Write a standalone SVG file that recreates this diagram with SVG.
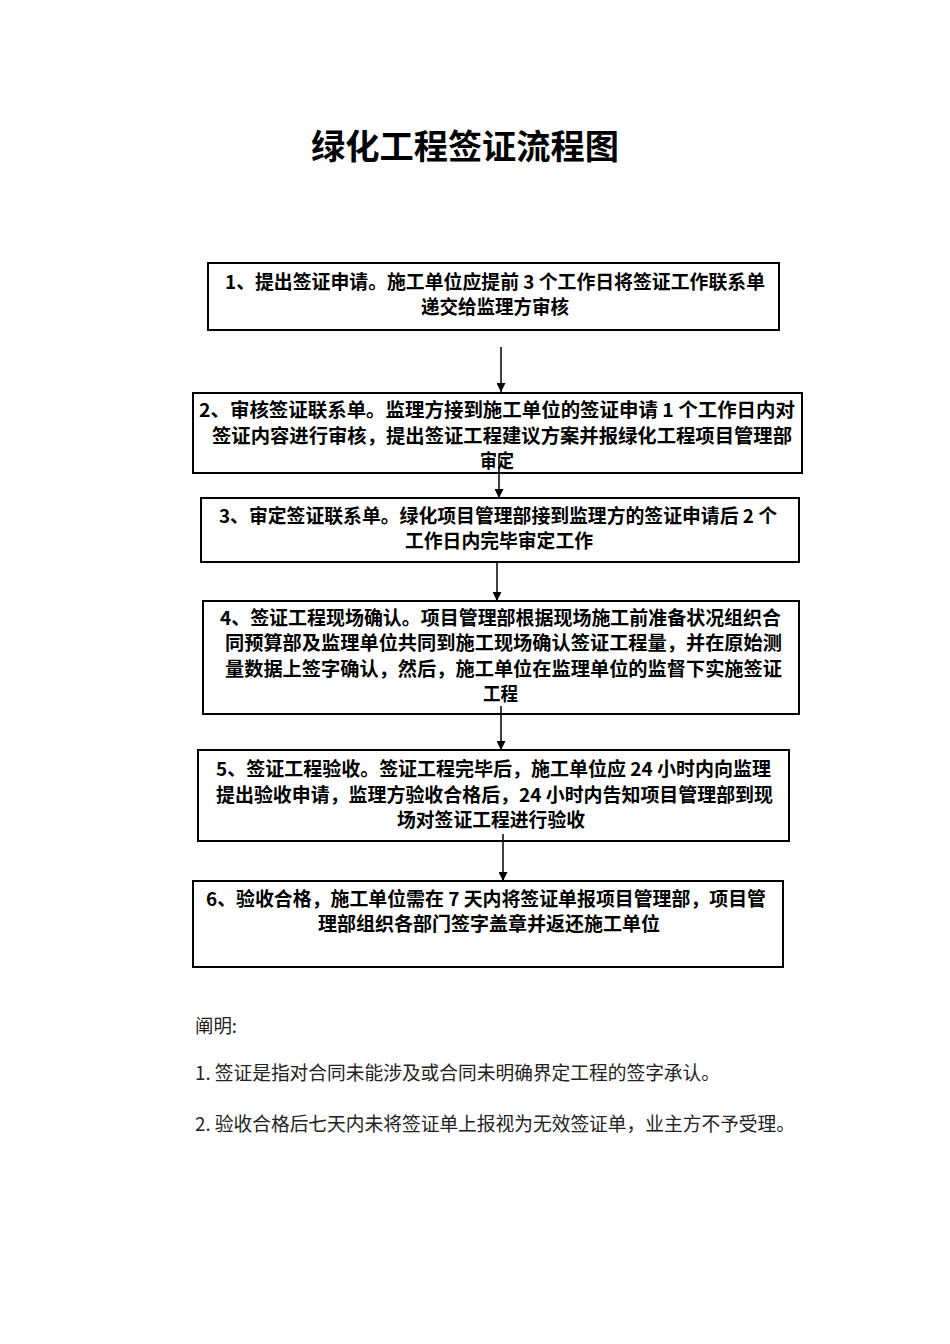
<svg xmlns="http://www.w3.org/2000/svg" width="950" height="1344" viewBox="0 0 950 1344">
<style>
.box{fill:#fff;stroke:#000;stroke-width:2}
.t{font-family:"Noto Sans CJK SC","Liberation Sans",sans-serif;font-size:19px;font-weight:bold;fill:#000}
.n{font-family:"Noto Sans CJK SC","Liberation Sans",sans-serif;font-size:19px;fill:#222}
.title{font-family:"Noto Sans CJK SC","Liberation Serif",serif;font-size:34px;font-weight:bold;fill:#000}
.c{stroke:#000;stroke-width:1.5;fill:none}
</style>
<defs>
<marker id="ah" viewBox="0 0 10 10" refX="10" refY="5" markerWidth="9" markerHeight="9" markerUnits="userSpaceOnUse" orient="auto">
<path d="M0,0 L10,5 L0,10 Z" fill="#000"/>
</marker>
</defs>
<rect width="950" height="1344" fill="#fff"/>
<text class="title" x="311" y="159" textLength="308" lengthAdjust="spacingAndGlyphs">绿化工程签证流程图</text>

<g id="node1">
<rect class="box" x="208" y="263" width="571" height="67"/>
<text class="t" x="225" y="289" textLength="540" lengthAdjust="spacingAndGlyphs">1、提出签证申请。施工单位应提前 3 个工作日将签证工作联系单</text>
<text class="t" x="421" y="314" textLength="148" lengthAdjust="spacingAndGlyphs">递交给监理方审核</text>
</g>
<g id="node2">
<rect class="box" x="193" y="393" width="609" height="80"/>
<text class="t" x="199" y="417" textLength="596" lengthAdjust="spacingAndGlyphs">2、审核签证联系单。监理方接到施工单位的签证申请 1 个工作日内对</text>
<text class="t" x="212" y="443" textLength="580" lengthAdjust="spacingAndGlyphs">签证内容进行审核，提出签证工程建议方案并报绿化工程项目管理部</text>
<text class="t" x="480" y="468" textLength="34" lengthAdjust="spacingAndGlyphs">审定</text>
</g>
<g id="node3">
<rect class="box" x="201" y="498" width="598" height="64"/>
<text class="t" x="219" y="523" textLength="558" lengthAdjust="spacingAndGlyphs">3、审定签证联系单。绿化项目管理部接到监理方的签证申请后 2 个</text>
<text class="t" x="405" y="548" textLength="188" lengthAdjust="spacingAndGlyphs">工作日内完毕审定工作</text>
</g>
<g id="node4">
<rect class="box" x="203" y="601" width="596" height="113"/>
<text class="t" x="220" y="625" textLength="561" lengthAdjust="spacingAndGlyphs">4、签证工程现场确认。项目管理部根据现场施工前准备状况组织合</text>
<text class="t" x="225" y="650" textLength="557" lengthAdjust="spacingAndGlyphs">同预算部及监理单位共同到施工现场确认签证工程量，并在原始测</text>
<text class="t" x="225" y="676" textLength="557" lengthAdjust="spacingAndGlyphs">量数据上签字确认，然后，施工单位在监理单位的监督下实施签证</text>
<text class="t" x="483" y="701" textLength="35" lengthAdjust="spacingAndGlyphs">工程</text>
</g>
<g id="node5">
<rect class="box" x="198" y="750" width="591" height="91"/>
<text class="t" x="216" y="776" textLength="555" lengthAdjust="spacingAndGlyphs">5、签证工程验收。签证工程完毕后，施工单位应 24 小时内向监理</text>
<text class="t" x="216" y="802" textLength="557" lengthAdjust="spacingAndGlyphs">提出验收申请，监理方验收合格后，24 小时内告知项目管理部到现</text>
<text class="t" x="397" y="827" textLength="188" lengthAdjust="spacingAndGlyphs">场对签证工程进行验收</text>
</g>
<g id="node6">
<rect class="box" x="193" y="881" width="590" height="86"/>
<text class="t" x="206" y="906" textLength="560" lengthAdjust="spacingAndGlyphs">6、验收合格，施工单位需在 7 天内将签证单报项目管理部，项目管</text>
<text class="t" x="318" y="931" textLength="342" lengthAdjust="spacingAndGlyphs">理部组织各部门签字盖章并返还施工单位</text>
</g>

<g id="connectors">
<line class="c" x1="501" y1="347" x2="501" y2="392" marker-end="url(#ah)"/>
<line class="c" x1="499" y1="458" x2="499" y2="498" marker-end="url(#ah)"/>
<line class="c" x1="497" y1="562" x2="497" y2="601" marker-end="url(#ah)"/>
<line class="c" x1="501" y1="706" x2="501" y2="750" marker-end="url(#ah)"/>
<line class="c" x1="503" y1="834" x2="503" y2="881" marker-end="url(#ah)"/>
</g>

<g id="notes">
<text class="n" x="195" y="1033" textLength="42" lengthAdjust="spacingAndGlyphs">阐明:</text>
<text class="n" x="195" y="1080" textLength="525" lengthAdjust="spacingAndGlyphs">1. 签证是指对合同未能涉及或合同未明确界定工程的签字承认。</text>
<text class="n" x="195" y="1131" textLength="600" lengthAdjust="spacingAndGlyphs">2. 验收合格后七天内未将签证单上报视为无效签证单，业主方不予受理。</text>
</g>
</svg>
